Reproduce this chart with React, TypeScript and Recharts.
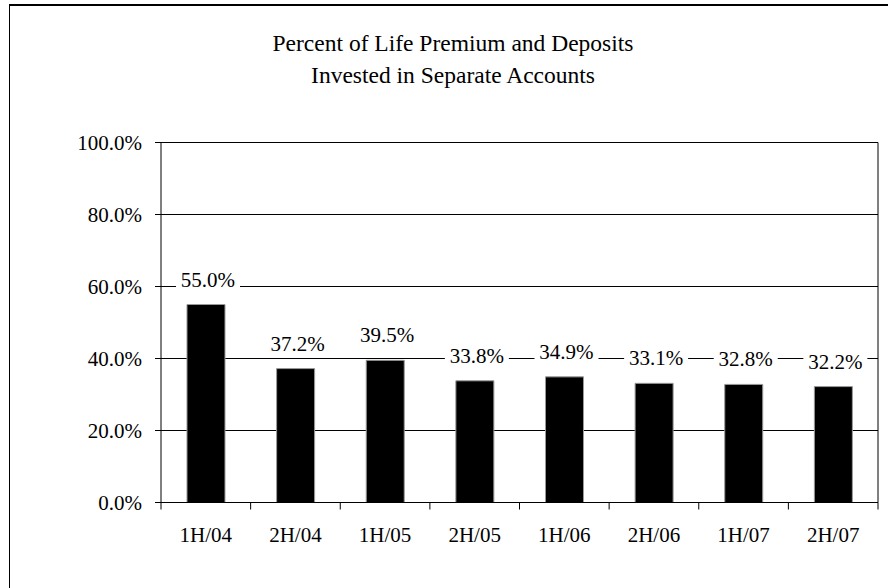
import React from 'react';
import { BarChart, Bar, XAxis, YAxis, CartesianGrid, LabelList } from 'recharts';

const periods = ['1H/04', '2H/04', '1H/05', '2H/05', '1H/06', '2H/06', '1H/07', '2H/07'];
const percents = [55.0, 37.2, 39.5, 33.8, 34.9, 33.1, 32.8, 32.2];
const yTicks = [0, 20, 40, 60, 80, 100];
const titleLines = ['Percent of Life Premium and Deposits', 'Invested in Separate Accounts'];

const data = periods.map((p, i) => ({ period: p, value: percents[i] }));

const FONT = '"Liberation Serif", "Times New Roman", serif';

const XTick = (props: any) => {
  const { x, y, payload, index, visibleTicksCount, width } = props;
  const half = payload && typeof payload.offset === 'number' && payload.offset > 0
    ? payload.offset
    : width / visibleTicksCount / 2;
  const isLast = index === visibleTicksCount - 1;
  return (
    <g>
      <line x1={x - half} x2={x - half} y1={y} y2={y + 7} stroke="#000" strokeWidth={1} />
      {isLast && <line x1={x + half} x2={x + half} y1={y} y2={y + 7} stroke="#000" strokeWidth={1} />}
      <text x={x} y={y + 39} textAnchor="middle" style={{ fontFamily: FONT, fontSize: 21 }} fill="#000">
        {payload.value}
      </text>
    </g>
  );
};

const ValueLabel = (props: any) => {
  const { x, y, width, value } = props;
  const cx = x + width / 2 + 2;
  const by = y - 18;
  return (
    <g>
      <rect x={cx - 32} y={by - 19} width={64} height={24} fill="#fff" />
      <text x={cx} y={by} textAnchor="middle" style={{ fontFamily: FONT, fontSize: 21 }} fill="#000">
        {Number(value).toFixed(1) + '%'}
      </text>
    </g>
  );
};

export default function App() {
  return (
    <div style={{ position: 'absolute', left: 0, top: 0, width: 888, height: 588, background: '#fff', overflow: 'hidden' }}>
      <div style={{ position: 'absolute', left: 9, top: 4, width: 900, height: 600, borderLeft: '1px solid #000', borderTop: '2px solid #000', boxSizing: 'border-box' }} />
      <div style={{ position: 'absolute', left: 203, top: 27, width: 500, textAlign: 'center', fontFamily: FONT, fontSize: 23.5, lineHeight: '32px', color: '#000' }}>
        {titleLines.map((t) => (
          <div key={t}>{t}</div>
        ))}
      </div>
      <div style={{ position: 'absolute', left: 0, top: 0 }}>
        <BarChart
          width={888}
          height={588}
          data={data}
          margin={{ top: 142.5, right: 10, bottom: 25.5, left: 0 }}
          barCategoryGap="29%"
        >
          <CartesianGrid
            horizontal={true}
            vertical={true}
            stroke="#000"
            strokeWidth={1}
            verticalCoordinatesGenerator={({ offset }: any) => [offset.left + offset.width]}
          />
          <XAxis
            dataKey="period"
            height={60}
            tickLine={false}
            tickSize={0}
            tickMargin={0}
            axisLine={{ stroke: '#000' }}
            tick={<XTick />}
            interval={0}
          />
          <YAxis
            width={161}
            domain={[0, 100]}
            ticks={yTicks}
            tickSize={6}
            tickMargin={13}
            tickLine={{ stroke: '#000' }}
            axisLine={{ stroke: '#000' }}
            tick={{ fill: '#000', fontSize: 21, fontFamily: FONT }}
            tickFormatter={(v: number) => v.toFixed(1) + '%'}
          />
          <Bar dataKey="value" fill="#000" stroke="#999" strokeWidth={1} isAnimationActive={false}>
            <LabelList dataKey="value" content={<ValueLabel />} />
          </Bar>
        </BarChart>
      </div>
    </div>
  );
}
